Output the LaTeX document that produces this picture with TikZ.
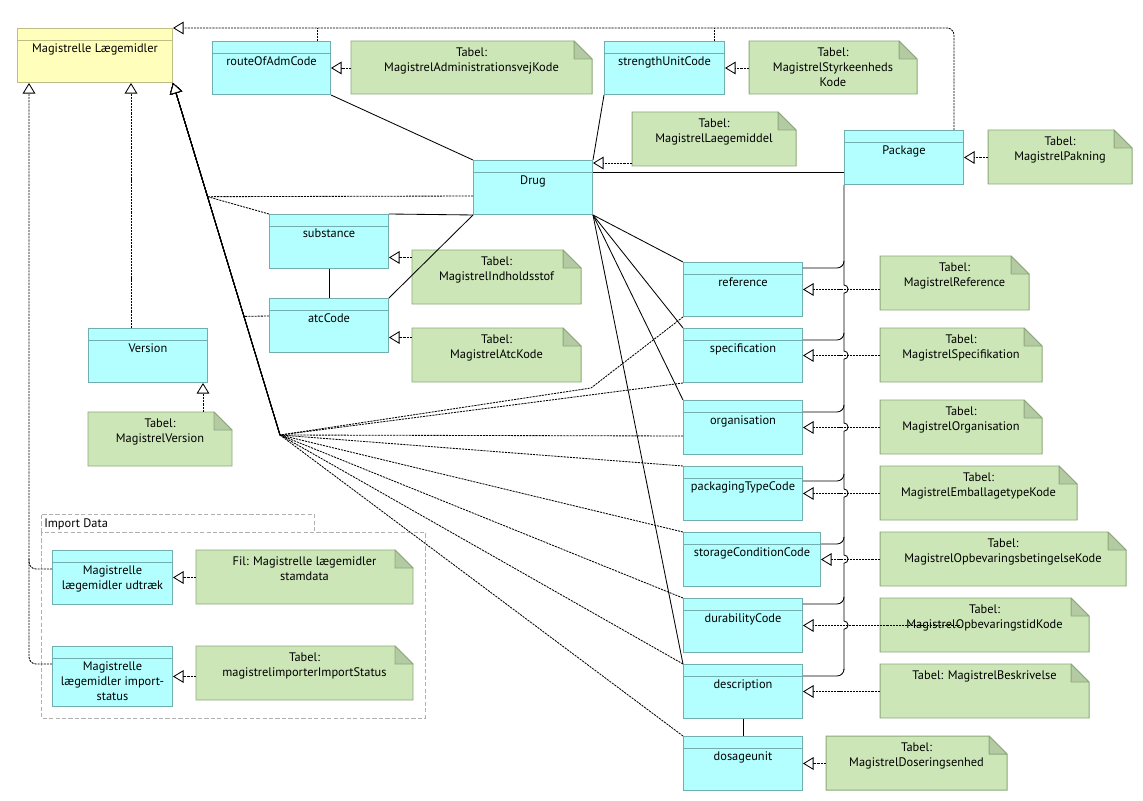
\documentclass[tikz,border=0pt]{standalone}
\usepackage{fontspec}
\setmainfont{PT Sans}
\usetikzlibrary{arrows.meta,calc,fit}
\definecolor{clsfill}{HTML}{B3FFFF}
\definecolor{clsline}{HTML}{72AEAE}
\definecolor{ymlfill}{HTML}{FFFFBB}
\definecolor{ymlline}{HTML}{BDBD86}
\definecolor{notefill}{HTML}{CCE6B8}
\definecolor{noteline}{HTML}{8CA878}
\definecolor{notefold}{HTML}{B4CAA2}
\definecolor{pkgline}{HTML}{B0B0B0}
\tikzset{
  txt/.style={font=\fontsize{8.8}{10.7}\selectfont, inner sep=0pt, align=center},
  hdr/.style={draw=clsline},
  cls/.style={draw=clsline, fill=clsfill, line width=0.7pt, inner sep=0pt, anchor=north west,
    path picture={\draw[hdr, line width=0.7pt] ($(path picture bounding box.north west)+(0,12)$) -- ($(path picture bounding box.north east)+(0,12)$);}},
  yml/.style={draw=ymlline, fill=ymlfill, hdr/.style={draw=ymlline}},
  clstext/.style={txt, anchor=north},
  notebox/.style={draw=noteline, fill=notefill, line width=0.7pt},
  notecorner/.style={draw=noteline, fill=notefold, line width=0.7pt, line join=round},
  notetext/.style={txt, anchor=north},
  dotline/.style={line width=0.6pt, dash pattern=on 1.5pt off 0.7pt},
  real/.style={dotline, -{Triangle[length=7.5pt, width=9pt, fill=white, line width=0.6pt]}},
  assoc/.style={line width=0.6pt},
}
% class box: [options](name)(x,y)(w,h){text}
\def\umlcls[#1](#2)(#3,#4)(#5,#6)#7{%
  \node[cls,#1,minimum width=#5*0.025cm,minimum height=#6*0.025cm] (#2) at (#3,#4) {};
  \node[clstext] (#2-t) at ($(#2.north)+(0,15)$) {#7};}
% note with folded corner: (name)(x1,y1)(x2,y2){text}
\def\umlnote(#1)(#2,#3)(#4,#5)#6{%
  \filldraw[notebox] (#2,#3) -- (#4-18,#3) -- (#4,#3+18) -- (#4,#5) -- (#2,#5) -- cycle;
  \filldraw[notecorner] (#4-18,#3) -- (#4-18,#3+18) -- (#4,#3+18) -- cycle;
  \node[fit={(#2,#3) (#4,#5)}, inner sep=0pt] (#1) {};
  \node[notetext] (#1-t) at ($(#1.north)+(0,6.5)$) {#6};}

\begin{document}
\begin{tikzpicture}[x=0.025cm, y=-0.025cm]
\useasboundingbox (0,0) rectangle (1143,801);

% import data package
\draw[pkgline, line width=0.7pt, dash pattern=on 3pt off 1.6pt] (41,532) rectangle (425,718);
\draw[pkgline, line width=0.7pt, dash pattern=on 3pt off 1.6pt] (41,532) |- (314,514) -- (314,532);
\node[txt, anchor=west] (imp) at (44,524) {Import Data};

% classes
\umlcls[yml](ml)(17,28)(155,54){Magistrelle Lægemidler}
\umlcls[](route)(212,41)(118,53){routeOfAdmCode}
\umlcls[](str)(604,41)(120,53){strengthUnitCode}
\umlcls[](drug)(473,160)(119,54){Drug}
\umlcls[](pkg)(844,130)(119,54){Package}
\umlcls[](sub)(269,214)(119,54){substance}
\umlcls[](atc)(269,298)(119,54){atcCode}
\umlcls[](ver)(88,328)(119,54){Version}
\umlcls[](ref)(683,262)(119,54){reference}
\umlcls[](spec)(683,328)(119,54){specification}
\umlcls[](org)(683,400)(119,54){organisation}
\umlcls[](pack)(683,466)(119,54){packagingTypeCode}
\umlcls[](stor)(683,532)(137,54){storageConditionCode}
\umlcls[](dur)(683,598)(119,54){durabilityCode}
\umlcls[](desc)(683,664)(119,54){description}
\umlcls[](dos)(683,736)(119,54){dosageunit}
\umlcls[](udt)(52,550)(120,54){Magistrelle\\lægemidler udtræk}
\umlcls[](imps)(52,646)(120,60){Magistrelle\\lægemidler import-\\status}

% notes
\umlnote(n-route)(351,41)(592,94){Tabel:\\MagistrelAdministrationsvejKode}
\umlnote(n-str)(749,41)(917,94){Tabel:\\MagistrelStyrkeenheds\\Kode}
\umlnote(n-drug)(632,112)(796,166){Tabel:\\MagistrelLaegemiddel}
\umlnote(n-pkg)(988,130)(1132,184){Tabel:\\MagistrelPakning}
\umlnote(n-sub)(412,250)(581,304){Tabel:\\MagistrelIndholdsstof}
\umlnote(n-atc)(412,328)(581,382){Tabel:\\MagistrelAtcKode}
\umlnote(n-ver)(88,412)(232,466){Tabel:\\MagistrelVersion}
\umlnote(n-ref)(880,256)(1029,310){Tabel:\\MagistrelReference}
\umlnote(n-spec)(880,328)(1042,382){Tabel:\\MagistrelSpecifikation}
\umlnote(n-org)(880,400)(1042,454){Tabel:\\MagistrelOrganisation}
\umlnote(n-pack)(880,466)(1077,520){Tabel:\\MagistrelEmballagetypeKode}
\umlnote(n-stor)(880,532)(1126,586){Tabel:\\MagistrelOpbevaringsbetingelseKode}
\umlnote(n-dur)(880,598)(1089,652){Tabel:\\MagistrelOpbevaringstidKode}
\umlnote(n-desc)(880,664)(1089,718){Tabel: MagistrelBeskrivelse}
\umlnote(n-dos)(826,736)(1007,790){Tabel:\\MagistrelDoseringsenhed}
\umlnote(n-udt)(196,550)(413,604){Fil: Magistrelle lægemidler\\stamdata}
\umlnote(n-imps)(196,646)(413,700){Tabel:\\magistrelimporterImportStatus}

% associations
\draw[assoc] (route.south east) -- (drug.north west);
\draw[assoc] (str.south west) -- (drug.north east);
\draw[assoc] ($(drug.north east)+(0,12)$) coordinate (dp) -- (dp -| pkg.west);
\draw[assoc] (sub.north east) -- (drug.south west);
\draw[assoc] (drug.south west) -- (atc.north east);
\draw[assoc] (sub.south) -- (atc.north);
\foreach \c in {ref,spec,org,desc}
  \draw[assoc] (drug.south east) -- (\c.north west);
\draw[assoc] (desc.south) -- (dos.north);

% package bus with hops
\draw[assoc] (pkg.south west) foreach \hy in {289,355,427,493,559,625} { -- (844,\hy-4) arc[start angle=90, end angle=-90, radius=2.9pt] } -- (844,670);
\foreach \c/\dy in {ref/6,spec/12,org/12,pack/15,stor/12,dur/6,desc/12}
  \draw[assoc, rounded corners=5] ($(\c.north east)+(0,\dy)$) coordinate (b) -| ($(b -| pkg.west)+(0,-6)$);

% generalisations to Magistrelle Laegemidler
\coordinate (fan) at (280,435);
\coordinate (d1) at ($(ml.south east)!0.323!(fan)$);
\coordinate (d2) at ($(ml.south east)!0.663!(fan)$);
\draw[real] ($(drug.north west)+(0,36)$) -- (d1) -- (ml.south east);
\draw[real] (sub.north west) -- (d1) -- (ml.south east);
\draw[real] ($(atc.north west)+(0,18)$) -- (d2) -- (ml.south east);
\draw[real] (ref.south west) -- (591,388) -- (fan) -- (ml.south east);
\draw[real] (spec.south west) -- (fan) -- (ml.south east);
\draw[real] ($(org.north west)+(0,36)$) -- (fan) -- (ml.south east);
\foreach \c in {pack,stor,dur,desc,dos}
  \draw[real] (\c.north west) -- (fan) -- (ml.south east);

\draw[real, rounded corners=5] ($(pkg.north east)+(-10,0)$) |- (ml.north east);
\draw[dotline] ($(route.north east)+(-14,0)$) coordinate (r1) -- (r1 |- ml.north);
\draw[dotline] ($(str.north east)+(-11,0)$) coordinate (s1) -- (s1 |- ml.north);
\coordinate (v1) at ($(ver.north west)+(43,0)$);
\draw[real] (v1) -- (v1 |- ml.south);
\draw[real, rounded corners=5] ($(imps.north west)+(0,18)$) -| ($(ml.south west)+(12,0)$);
\draw[dotline, rounded corners=5] ($(udt.north west)+(0,19)$) -| ++(-23,-10);

% realisations from tables
\draw[real] (n-route.west |- route.east) -- (route.east);
\draw[real] (n-str.west |- str.east) -- (str.east);
\draw[real] (n-drug.west |- 0,163) -- (drug.north east |- 0,163);
\draw[real] (n-pkg.west |- pkg.east) -- (pkg.east);
\draw[real] ($(n-sub.west |- sub.east)+(0,16)$) -- ($(sub.east)+(0,16)$);
\draw[real] ($(n-atc.west |- atc.east)+(0,12)$) -- ($(atc.east)+(0,12)$);
\coordinate (v2) at ($(ver.south east)+(-5,0)$);
\draw[real] (v2 |- n-ver.north) -- (v2);
\foreach \c in {ref,spec,org,pack,stor,desc,dos,udt,imps}
  \draw[real] (n-\c.west |- \c.east) -- (\c.east);
\draw[real] ($(n-dur.west |- dur.east)+(80,0)$) -- (dur.east);
\end{tikzpicture}
\end{document}
